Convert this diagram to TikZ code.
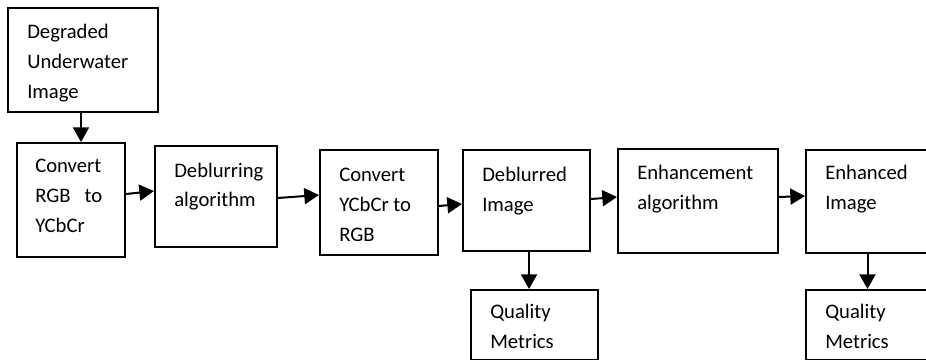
\documentclass[tikz,border=0pt]{standalone}
\usepackage{fontspec}
\setmainfont{Carlito}
\usetikzlibrary{arrows.meta}
\newcommand{\bt}[1]{\parbox[t]{150pt}{\raggedright #1}}
\begin{document}
\begin{tikzpicture}[x=0.75pt,y=-0.75pt,
  box/.style={draw=black,line width=1.5pt,rectangle,inner sep=0pt,anchor=north west},
  txt/.style={anchor=base west,inner sep=0pt,font=\fontsize{15.5}{22.5}\selectfont},
  arr/.style={line width=1.5pt,-{Triangle[length=11pt,width=12pt]}}]
\useasboundingbox (0,0) rectangle (926,360);
\clip (0,0) rectangle (926,360);
% boxes
\node[box,minimum width=112.5pt,minimum height=78pt] (A) at (7,7) {};
\node[box,minimum width=81pt,minimum height=85.5pt] (B) at (16,142) {};
\node[box,minimum width=91.5pt,minimum height=75.75pt] (C) at (154,145) {};
\node[box,minimum width=88.5pt,minimum height=78.75pt] (D) at (319,149) {};
\node[box,minimum width=95.25pt,minimum height=75.75pt] (E) at (462,149) {};
\node[box,minimum width=95.25pt,minimum height=52.5pt] (F) at (470,289) {};
\node[box,minimum width=120pt,minimum height=78pt] (G) at (617,148) {};
\node[box,minimum width=101.25pt,minimum height=77.25pt] (H) at (805,149) {};
\node[box,minimum width=101.25pt,minimum height=52.5pt] (I) at (805,289) {};
% texts
\node[txt] (tA) at (27,39) {\bt{Degraded\\Underwater\\Image}};
\node[txt] (tB) at (35,173) {\bt{Convert\\RGB\ \ \ to\\YCbCr}};
\node[txt] (tC) at (174,177) {\bt{Deblurring\\algorithm}};
\node[txt] (tD) at (339,181) {\bt{Convert\\YCbCr to\\RGB}};
\node[txt] (tE) at (482,181) {\bt{Deblurred\\Image}};
\node[txt] (tF) at (490,318) {\bt{Quality\\Metrics}};
\node[txt] (tG) at (637,180) {\bt{Enhancement\\algorithm}};
\node[txt] (tH) at (825,180) {\bt{Enhanced\\Image}};
\node[txt] (tI) at (825,318) {\bt{Quality\\Metrics}};
% arrows
\draw[arr] ([xshift=-1.5pt]A.south) -- ([xshift=-1.5pt]A.south |- B.north);
\draw[arr] ([yshift=4.5pt]B.east) -- ([yshift=4.1pt]C.west);
\draw[arr] ([yshift=-1.1pt]C.east) -- ([yshift=5.6pt]D.west);
\draw[arr] ([yshift=-2.6pt]D.east) -- ([yshift=-2.6pt]E.west);
\draw[arr] ([yshift=1.1pt]E.east) -- ([yshift=3pt]G.west);
\draw[arr] ([yshift=3pt]G.east) -- ([yshift=4.1pt]H.west);
\draw[arr] ([xshift=1.9pt]E.south) -- ([xshift=1.9pt]E.south |- F.north);
\draw[arr] ([xshift=-4.5pt]H.south) -- ([xshift=-4.5pt]H.south |- I.north);
\end{tikzpicture}
\end{document}
